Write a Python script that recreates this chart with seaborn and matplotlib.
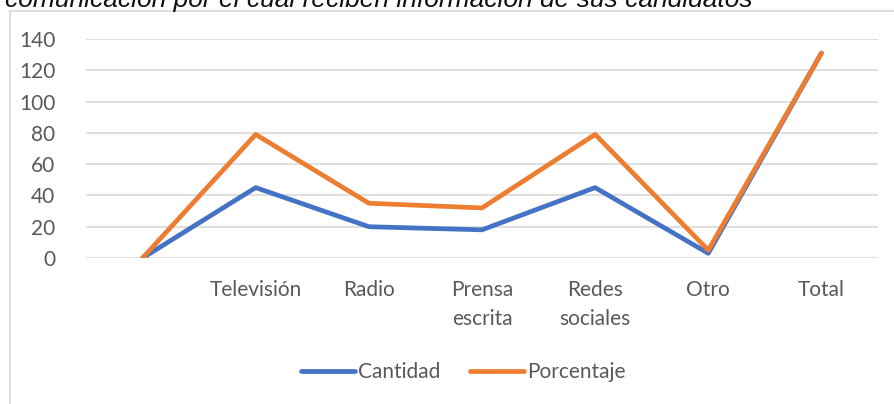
"""Line chart: medio de comunicación por el cual reciben información."""

import matplotlib.pyplot as plt
import pandas as pd
import seaborn as sns
from matplotlib.lines import Line2D


CATEGORIES = ["", "Televisión", "Radio", "Prensa\nescrita", "Redes\nsociales", "Otro", "Total"]
CANTIDAD = [0, 45, 20, 18, 45, 3, 131]
PORCENTAJE = [0, 79, 35, 32, 79, 5, 131]
SERIES = ["Cantidad", "Porcentaje"]
COLORS = ["#4472C4", "#ED7D31"]
Y_TICKS = [0, 20, 40, 60, 80, 100, 120, 140]
TITLE = "comunicación por el cual reciben información de sus candidatos"

TEXT_COLOR = "#595959"
GRID_COLOR = "#D9D9D9"


def main():
    data = pd.DataFrame({
        "pos": list(range(len(CATEGORIES))) * 2,
        "value": CANTIDAD + PORCENTAJE,
        "serie": [SERIES[0]] * len(CATEGORIES) + [SERIES[1]] * len(CATEGORIES),
    })

    sns.set_theme(style="white")
    plt.rcParams["font.family"] = ["Lato", "DejaVu Sans"]

    W, H = 894, 404
    fig = plt.figure(figsize=(W / 100, H / 100), dpi=100)
    ax = fig.add_axes([86 / W, 146 / H, (878 - 86) / W, (365 - 146) / H])

    sns.lineplot(
        data=data, x="pos", y="value", hue="serie", palette=COLORS,
        sort=False, linewidth=3.4, legend=False, ax=ax,
    )
    for line in ax.get_lines():
        line.set_solid_capstyle("round")
        line.set_solid_joinstyle("round")

    ax.set_xlim(-0.5, len(CATEGORIES) - 0.5)
    ax.set_ylim(0, 140)
    ax.set_yticks(Y_TICKS)
    ax.set_xticks(range(len(CATEGORIES)))
    ax.set_xticklabels(CATEGORIES, linespacing=1.55, va="top")
    ax.tick_params(axis="y", length=0, pad=22, labelsize=15, labelcolor=TEXT_COLOR)
    ax.tick_params(axis="x", length=0, pad=16, labelsize=15, labelcolor=TEXT_COLOR)
    ax.set_xlabel("")
    ax.set_ylabel("")
    ax.yaxis.grid(True, color=GRID_COLOR, linewidth=1.2)
    ax.set_axisbelow(True)
    for spine in ax.spines.values():
        spine.set_visible(False)

    handles = [Line2D([], [], color=c, linewidth=3.4, solid_capstyle="round") for c in COLORS]
    fig.legend(
        handles, SERIES, loc="center", bbox_to_anchor=(463 / W, 1 - 372 / H),
        ncol=2, frameon=False, fontsize=15, labelcolor=TEXT_COLOR,
        handlelength=2.6, handletextpad=0.15, columnspacing=1.4,
    )

    # chart-area border (only top and left edges are visible in the crop)
    fig.add_artist(Line2D([10 / W, 1], [1 - 11 / H, 1 - 11 / H], color=GRID_COLOR, linewidth=1.2))
    fig.add_artist(Line2D([10 / W, 10 / W], [0, 1 - 11 / H], color=GRID_COLOR, linewidth=1.2))

    fig.text(5 / W, 1 - 7 / H, TITLE, ha="left", va="baseline", fontsize=19,
             style="italic", color="#111111", family=["Liberation Sans", "DejaVu Sans"])

    fig.savefig("out.png", dpi=100)
    plt.close(fig)


if __name__ == "__main__":
    main()
